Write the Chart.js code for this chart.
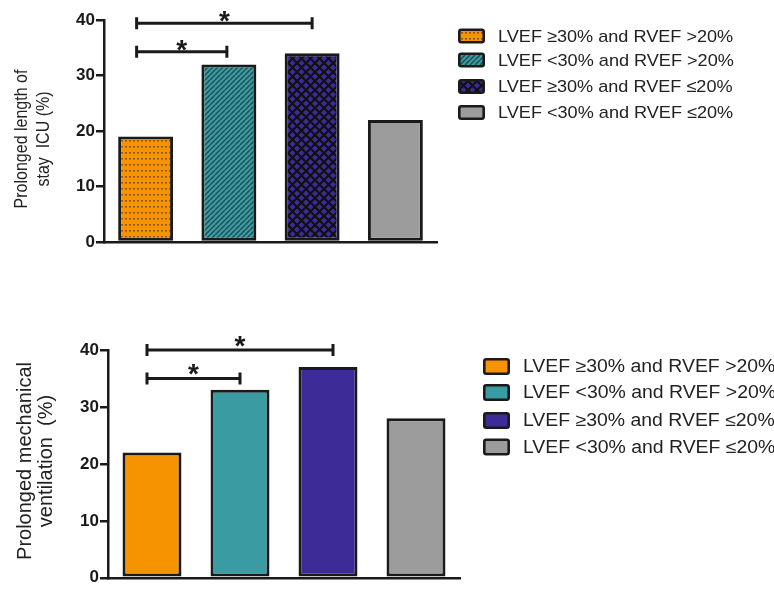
<!DOCTYPE html>
<html><head><meta charset="utf-8">
<script src="https://cdn.jsdelivr.net/npm/chart.js@4.4.1/dist/chart.umd.min.js"></script>
<style>
html,body{margin:0;padding:0;background:#fff;width:774px;height:589px;overflow:hidden}
canvas{position:absolute;left:0}
#c1{top:0}
#c2{top:320px}
</style></head><body>
<canvas id="c1" width="774" height="262"></canvas>
<canvas id="c2" width="774" height="269"></canvas>
<script>
// ---- data ----
const groups = ['LVEF \u226530% and RVEF >20%', 'LVEF <30% and RVEF >20%', 'LVEF \u226530% and RVEF \u226420%', 'LVEF <30% and RVEF \u226420%'];
const icuStayPct = [19, 32, 34, 22];
const mechVentPct = [22, 33, 37, 28];
const yTickValues = [0, 10, 20, 30, 40];
const icuSigPairs = [[0, 1], [0, 2]];
const icuSigLevels = [34.3, 39.4];
const ventSigPairs = [[0, 1], [0, 2]];
const ventSigLevels = [35, 40];
const icuTitle = ['Prolonged length of', 'stay  ICU (%)'];
const ventTitle = ['Prolonged mechanical', 'ventilation  (%)'];

// ---- styles ----
const FONT = 'Arial, "Liberation Sans", sans-serif';
const INK = '#1a1a1a';
const ORANGE = '#f59300', TEAL = '#3a9ba2', PURPLE = '#3d2b98', GRAY = '#9c9c9c';

function tile(w, h, draw) {
  const c = document.createElement('canvas'); c.width = w; c.height = h;
  const g = c.getContext('2d'); draw(g, w, h);
  return document.createElement('canvas').getContext('2d').createPattern(c, 'repeat');
}
const patDots = () => tile(4, 6, (g, w, h) => { g.fillStyle = ORANGE; g.fillRect(0, 0, w, h); g.fillStyle = 'rgba(90,70,50,0.75)'; g.fillRect(1, 2, 2, 1.6); });
const patHatch = () => tile(5, 5, (g, w, h) => {
  g.fillStyle = TEAL; g.fillRect(0, 0, w, h);
  g.strokeStyle = '#1e4f53'; g.lineWidth = 1.4;
  for (let k = -1; k <= 1; k++) { g.beginPath(); g.moveTo(k * w, h); g.lineTo(k * w + w, 0); g.stroke(); }
});
const patCross = () => tile(9, 9, (g, w, h) => {
  g.fillStyle = PURPLE; g.fillRect(0, 0, w, h);
  g.strokeStyle = '#111'; g.lineWidth = 2.2;
  for (let k = -1; k <= 1; k++) {
    g.beginPath(); g.moveTo(k * w, h); g.lineTo(k * w + w, 0); g.stroke();
    g.beginPath(); g.moveTo(k * w, 0); g.lineTo(k * w + w, h); g.stroke();
  }
});

const panelDecor = {
  id: 'panelDecor',
  afterDraw(chart, args, o) {
    const ctx = chart.ctx, xs = chart.scales.x, ys = chart.scales.y;
    ctx.save();
    // y axis title
    ctx.fillStyle = '#222';
    ctx.font = o.titleSize + 'px ' + FONT;
    ctx.textAlign = 'center'; ctx.textBaseline = 'middle';
    o.title.forEach((line, i) => {
      ctx.save(); ctx.translate(o.titleX[i], o.titleY); ctx.rotate(-Math.PI / 2);
      ctx.scale(1, o.titleStretch);
      ctx.fillText(line, 0, 0); ctx.restore();
    });
    // significance brackets
    ctx.strokeStyle = INK; ctx.lineWidth = 3; ctx.fillStyle = INK;
    o.pairs.forEach((p, i) => {
      const x1 = xs.getPixelForValue(p[0]) + o.leftShift;
      const x2 = xs.getPixelForValue(p[1]) + o.rightShift[i];
      const y = ys.getPixelForValue(o.levels[i]);
      ctx.beginPath(); ctx.moveTo(x1, y); ctx.lineTo(x2, y);
      ctx.moveTo(x1, y - 6); ctx.lineTo(x1, y + 6);
      ctx.moveTo(x2, y - 6); ctx.lineTo(x2, y + 6); ctx.stroke();
      ctx.font = 'bold 28px ' + FONT; ctx.textAlign = 'center'; ctx.textBaseline = 'alphabetic';
      ctx.fillText('*', (x1 + x2) / 2, y - o.starGap + 16);
    });
    // legend
    const ds = chart.data.datasets[0];
    chart.data.labels.forEach((lab, i) => {
      const cy = o.legRows[i];
      ctx.fillStyle = ds.backgroundColor[i];
      ctx.strokeStyle = INK; ctx.lineWidth = 2.6;
      ctx.beginPath();
      ctx.roundRect(o.legX + 1.3, cy - o.boxH / 2 + 1.3, o.boxW - 2.6, o.boxH - 2.6, 2);
      ctx.fill(); ctx.stroke();
      ctx.save();
      ctx.translate(o.legTextX, cy); ctx.scale(o.legScaleX, 1);
      ctx.fillStyle = '#222'; ctx.font = o.legSize + 'px ' + FONT;
      ctx.textAlign = 'left'; ctx.textBaseline = 'middle';
      ctx.fillText(lab, 0, 1);
      ctx.restore();
    });
    ctx.restore();
  }
};

function build(id, values, fills, cfg, decor) {
  return new Chart(document.getElementById(id), {
    type: 'bar',
    data: { labels: groups, datasets: [{ data: values, backgroundColor: fills, borderColor: INK, borderWidth: 3, borderSkipped: false, barPercentage: cfg.barPct, categoryPercentage: 1 }] },
    options: {
      responsive: false, animation: false,
      layout: { padding: { top: cfg.top, right: cfg.right, left: 0, bottom: 0 } },
      plugins: { legend: { display: false }, tooltip: { enabled: false }, panelDecor: decor },
      scales: {
        x: { grid: { display: false }, border: { display: true, color: INK, width: 2.5 }, ticks: { display: false }, afterFit: s => { s.height = cfg.xh; } },
        y: {
          min: 0, max: 40,
          afterBuildTicks: s => { s.ticks = yTickValues.map(v => ({ value: v })); },
          grid: { drawOnChartArea: false, drawTicks: true, tickLength: 8, color: INK, lineWidth: 2.5 },
          border: { display: true, color: INK, width: 2.5 },
          ticks: { font: { family: FONT, size: 17, weight: 'bold' }, color: INK, padding: 1 },
          afterFit: s => { s.width = cfg.left; }
        }
      }
    },
    plugins: [panelDecor]
  });
}

build('c1', icuStayPct, [patDots(), patHatch(), patCross(), GRAY],
  { barPct: 0.66, top: 20, right: 337, left: 104, xh: 20 },
  { title: icuTitle, titleSize: 16, titleStretch: 1.15, titleX: [22, 44], titleY: 139,
    pairs: icuSigPairs, levels: icuSigLevels, leftShift: -9, rightShift: [-2, 0], starGap: 9,
    legRows: [36, 60, 86.5, 112.5], legX: 458, boxW: 27, boxH: 15, legTextX: 498, legSize: 17, legScaleX: 1.065 });

build('c2', mechVentPct, [ORANGE, TEAL, PURPLE, GRAY],
  { barPct: 0.67, top: 30, right: 314, left: 108, xh: 6 },
  { title: ventTitle, titleSize: 20, titleStretch: 1.05, titleX: [25, 46], titleY: 141,
    pairs: ventSigPairs, levels: ventSigLevels, leftShift: -5, rightShift: [0, 5], starGap: 11.5,
    legRows: [46.5, 72.5, 100.5, 127], legX: 483, boxW: 27, boxH: 17, legTextX: 523, legSize: 17.5, legScaleX: 1.11 });
</script>
</body></html>
